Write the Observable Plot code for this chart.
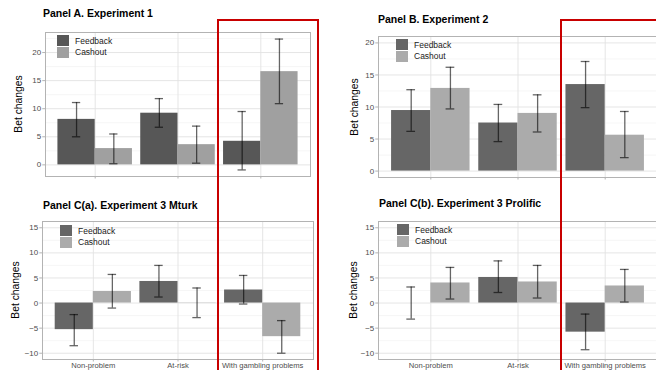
<!DOCTYPE html>
<html>
<head>
<meta charset="utf-8">
<script src="https://cdn.jsdelivr.net/npm/d3@7"></script>
<script src="https://cdn.jsdelivr.net/npm/@observablehq/plot@0.6"></script>
<style>
  html, body { margin: 0; padding: 0; background: #fff; }
  #wrap { position: relative; width: 656px; height: 370px; overflow: hidden; font-family: "Liberation Sans", Arial, sans-serif; }
  .panel { position: absolute; }
  .panel svg { overflow: visible; max-width: none; }
  .title { position: absolute; font-weight: bold; font-size: 10.5px; color: #000; white-space: nowrap; line-height: 1; }
  .ylab { position: absolute; font-size: 10.3px; color: #000; white-space: nowrap; line-height: 1; transform: translate(-50%, -50%) rotate(-90deg); }
  .legend { position: absolute; font-size: 8.5px; color: #1a1a1a; line-height: 1; }
  .legend .row { display: flex; align-items: center; height: 11.5px; }
  .legend .key { width: 12px; height: 11px; margin-right: 6px; }
  .redbox { position: absolute; box-sizing: border-box; border: 2.3px solid #c80000; }
</style>
</head>
<body>
<div id="wrap"></div>
<script>
// ---------- data ----------
const categories = ["Non-problem", "At-risk", "With gambling problems"];
const conditions = ["Feedback", "Cashout"];

// Panel A. Experiment 1
const expA_feedback   = [8.1, 9.2, 4.2];
const expA_feedbackLo = [5.0, 6.7, -0.9];
const expA_feedbackHi = [11.1, 11.8, 9.5];
const expA_cashout    = [2.9, 3.6, 16.6];
const expA_cashoutLo  = [0.2, 0.3, 10.9];
const expA_cashoutHi  = [5.5, 6.9, 22.4];

// Panel B. Experiment 2
const expB_feedback   = [9.45, 7.5, 13.5];
const expB_feedbackLo = [6.2, 4.6, 9.9];
const expB_feedbackHi = [12.7, 10.4, 17.1];
const expB_cashout    = [12.9, 9.0, 5.6];
const expB_cashoutLo  = [9.7, 6.1, 2.1];
const expB_cashoutHi  = [16.2, 11.9, 9.3];

// Panel C(a). Experiment 3 Mturk
const expCa_feedback   = [-5.3, 4.3, 2.6];
const expCa_feedbackLo = [-8.5, 1.2, -0.2];
const expCa_feedbackHi = [-2.3, 7.5, 5.5];
const expCa_cashout    = [2.3, 0.05, -6.7];
const expCa_cashoutLo  = [-1.0, -2.9, -10.0];
const expCa_cashoutHi  = [5.7, 3.0, -3.5];

// Panel C(b). Experiment 3 Prolific
const expCb_feedback   = [0.0, 5.1, -5.8];
const expCb_feedbackLo = [-3.2, 2.1, -9.3];
const expCb_feedbackHi = [3.2, 8.4, -2.2];
const expCb_cashout    = [4.0, 4.2, 3.4];
const expCb_cashoutLo  = [0.8, 1.0, 0.2];
const expCb_cashoutHi  = [7.1, 7.5, 6.7];

const ticksTop = [0, 5, 10, 15, 20];
const ticksBottom = [-10, -5, 0, 5, 10, 15];

// ---------- drawing ----------
const wrap = document.getElementById("wrap");

function rowsFor(fb, fbLo, fbHi, ca, caLo, caHi) {
  const rows = [];
  categories.forEach((c, i) => {
    rows.push({cat: c, pos: i + 1, cond: "Feedback", v: fb[i], lo: fbLo[i], hi: fbHi[i]});
    rows.push({cat: c, pos: i + 1, cond: "Cashout", v: ca[i], lo: caLo[i], hi: caHi[i]});
  });
  return rows;
}

function panel(cfg) {
  const rows = rowsFor(...cfg.data);
  const dodge = 0.45;                 // half of total group width 0.9
  const x1 = d => d.pos - (d.cond === "Feedback" ? dodge : 0);
  const x2 = d => d.pos + (d.cond === "Cashout" ? dodge : 0);
  const xc = d => d.pos + (d.cond === "Feedback" ? -dodge / 2 : dodge / 2);
  const cap = 0.05;
  const major = cfg.ticks;
  const step = major[1] - major[0];
  const minor = d3.range(major[0] - step / 2, major[major.length - 1] + step, step)
    .filter(v => v > cfg.y[0] && v < cfg.y[1]);

  const plot = Plot.plot({
    width: cfg.width, height: cfg.height,
    marginLeft: cfg.ml, marginRight: cfg.mr, marginTop: cfg.mt, marginBottom: cfg.mb,
    style: {fontFamily: "Liberation Sans, Arial, sans-serif", fontSize: "8px", background: "transparent"},
    x: {domain: [0.4, 3.6], axis: null},
    y: {domain: cfg.y, axis: null},
    color: {domain: conditions, range: cfg.colors},
    marks: [
      Plot.gridY(minor, {stroke: "#f0f0f0", strokeOpacity: 1, strokeWidth: 0.6}),
      Plot.gridY(major, {stroke: "#e2e2e2", strokeOpacity: 1, strokeWidth: 0.9}),
      Plot.gridX([1, 2, 3], {stroke: "#e2e2e2", strokeOpacity: 1, strokeWidth: 0.9}),
      Plot.rectY(rows, {x1, x2, y1: 0, y2: "v", fill: "cond"}),
      Plot.ruleX(rows, {x: xc, y1: "lo", y2: "hi", stroke: "#000", strokeOpacity: 0.6, strokeWidth: 1.3}),
      Plot.ruleY(rows, {y: "lo", x1: d => xc(d) - cap, x2: d => xc(d) + cap, stroke: "#000", strokeOpacity: 0.6, strokeWidth: 1.3}),
      Plot.ruleY(rows, {y: "hi", x1: d => xc(d) - cap, x2: d => xc(d) + cap, stroke: "#000", strokeOpacity: 0.6, strokeWidth: 1.3}),
      Plot.frame({stroke: "#b3b3b3", strokeWidth: 1}),
      Plot.axisY({ticks: major, tickSize: 2.75, tickPadding: 1.5, stroke: "#b3b3b3", fill: "#4d4d4d", fontSize: 8, label: null}),
      Plot.axisX({ticks: [1, 2, 3], tickSize: 2.5, tickPadding: 0.5, stroke: "#b3b3b3", fill: "#4d4d4d", fontSize: 7.6, label: null,
                  tickFormat: cfg.showX ? (i => categories[i - 1]) : (() => "")})
    ]
  });
  const holder = document.createElement("div");
  holder.className = "panel";
  holder.style.left = cfg.left + "px";
  holder.style.top = cfg.top + "px";
  holder.style.width = cfg.width + "px";
  holder.appendChild(plot);
  wrap.appendChild(holder);

  // title
  const t = document.createElement("div");
  t.className = "title";
  t.textContent = cfg.title;
  t.style.left = cfg.titleX + "px";
  t.style.top = cfg.titleY + "px";
  wrap.appendChild(t);

  // y label
  const yl = document.createElement("div");
  yl.className = "ylab";
  yl.textContent = "Bet changes";
  yl.style.left = cfg.ylabX + "px";
  yl.style.top = (cfg.top + cfg.mt + (cfg.height - cfg.mt - cfg.mb) / 2) + "px";
  wrap.appendChild(yl);

  // legend
  const lg = document.createElement("div");
  lg.className = "legend";
  lg.style.left = (cfg.left + cfg.ml + cfg.legDx) + "px";
  lg.style.top = (cfg.top + cfg.mt + cfg.legDy) + "px";
  conditions.forEach((c, i) => {
    const r = document.createElement("div");
    r.className = "row";
    const k = document.createElement("div");
    k.className = "key";
    k.style.background = cfg.colors[i];
    const s = document.createElement("span");
    s.textContent = c;
    r.appendChild(k); r.appendChild(s);
    lg.appendChild(r);
  });
  wrap.appendChild(lg);
  return plot;
}

const colsA = ["#575757", "#a0a0a0"];
const colsO = ["#666666", "#ababab"];

panel({title: "Panel A. Experiment 1", titleX: 43, titleY: 8,
  data: [expA_feedback, expA_feedbackLo, expA_feedbackHi, expA_cashout, expA_cashoutLo, expA_cashoutHi],
  left: 0, top: 0, width: 320, height: 185, ml: 45, mr: 10, mt: 32, mb: 9,
  y: [-2.07, 23.57], ticks: ticksTop, colors: colsA, showX: false, ylabX: 19, legDx: 12, legDy: 3});

panel({title: "Panel B. Experiment 2", titleX: 378, titleY: 14,
  data: [expB_feedback, expB_feedbackLo, expB_feedbackHi, expB_cashout, expB_cashoutLo, expB_cashoutHi],
  left: 326, top: 0, width: 336, height: 185, ml: 52, mr: 5, mt: 36, mb: 8,
  y: [-1, 21], ticks: ticksTop, colors: colsO, showX: false, ylabX: 355, legDx: 18, legDy: 3});

panel({title: "Panel C(a). Experiment 3 Mturk", titleX: 43, titleY: 200,
  data: [expCa_feedback, expCa_feedbackLo, expCa_feedbackHi, expCa_cashout, expCa_cashoutLo, expCa_cashoutHi],
  left: 0, top: 185, width: 320, height: 200, ml: 42, mr: 7, mt: 36, mb: 26,
  y: [-11.25, 16.25], ticks: ticksBottom, colors: colsO, showX: true, ylabX: 16, legDx: 18, legDy: 4});

panel({title: "Panel C(b). Experiment 3 Prolific", titleX: 379, titleY: 198,
  data: [expCb_feedback, expCb_feedbackLo, expCb_feedbackHi, expCb_cashout, expCb_cashoutLo, expCb_cashoutHi],
  left: 326, top: 185, width: 336, height: 200, ml: 52, mr: 5, mt: 36, mb: 26,
  y: [-11.25, 16.25], ticks: ticksBottom, colors: colsO, showX: true, ylabX: 354, legDx: 19, legDy: 3});

// red highlight boxes (annotation)
[[217, 19, 102, 420], [560, 19, 200, 420]].forEach(([l, t, w, h]) => {
  const b = document.createElement("div");
  b.className = "redbox";
  b.style.left = l + "px"; b.style.top = t + "px";
  b.style.width = w + "px"; b.style.height = h + "px";
  wrap.appendChild(b);
});
</script>
</body>
</html>
